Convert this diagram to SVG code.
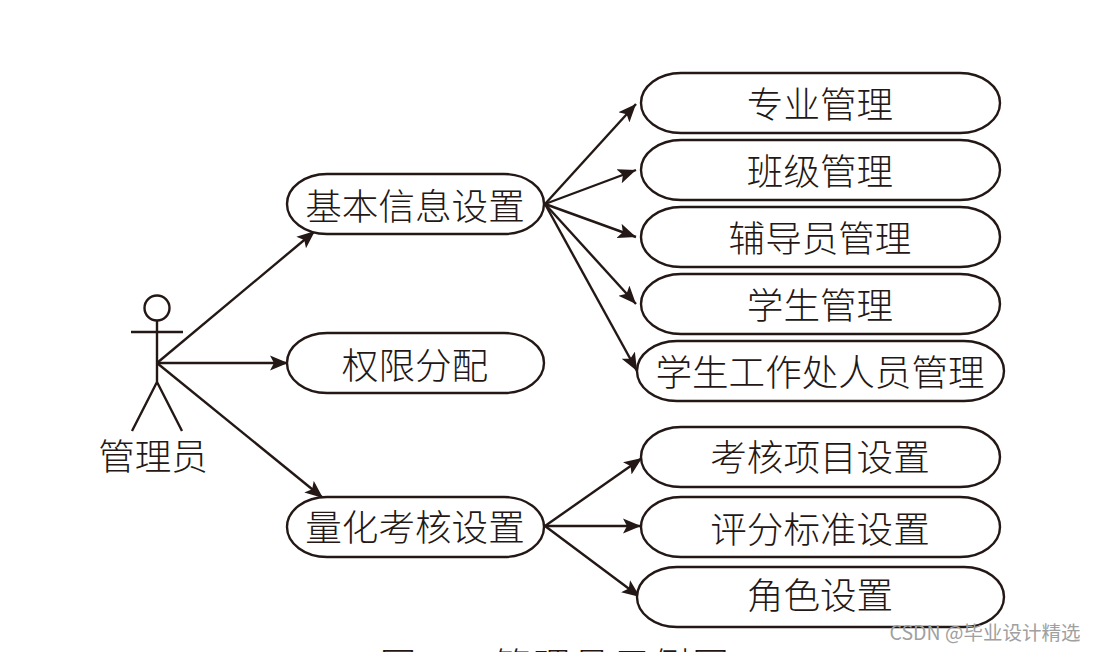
<svg xmlns="http://www.w3.org/2000/svg" width="1096" height="652" viewBox="0 0 1096 652">
<style>
.n{fill:#fff;stroke:#231815;stroke-width:2.4}
.t{font-family:"Noto Sans CJK SC","Liberation Serif",serif;font-size:36.6px;fill:#231815;text-anchor:middle;font-weight:300}
.l{stroke:#231815;stroke-width:2.4;fill:none}
.c{stroke:#231815;stroke-width:2.4;fill:none;marker-end:url(#a)}
</style>
<defs><marker id="a" markerUnits="userSpaceOnUse" markerWidth="20" markerHeight="16" refX="18" refY="8" orient="auto"><path d="M0 0.5L18 8L0 15.5L4 8Z" fill="#231815"/></marker></defs>
<g id="connectors">
<path class="c" d="M157 363L315 231"/>
<path class="c" d="M157 363H288"/>
<path class="c" d="M157 363L323 498"/>
<path class="c" d="M545 204L636 104"/>
<path class="c" d="M545 204L636 170"/>
<path class="c" d="M545 204L636 237"/>
<path class="c" d="M545 204L636 304"/>
<path class="c" d="M545 204L637 371"/>
<path class="c" d="M545 526L642 458"/>
<path class="c" d="M545 526H641"/>
<path class="c" d="M545 526L640 597"/>
</g>
<g id="actor"><circle class="l" cx="157" cy="308" r="12.5"/><path class="l" d="M157 320V382M131 332H183M157 382L132 431M157 382L182 431"/><text class="t" x="153" y="470">管理员</text></g>
<g id="n1"><rect class="n" x="287" y="174" width="257" height="60" rx="40" ry="30"/><text class="t" x="415" y="220">基本信息设置</text></g>
<g id="n2"><rect class="n" x="287" y="333" width="257" height="60" rx="40" ry="30"/><text class="t" x="415" y="379">权限分配</text></g>
<g id="n3"><rect class="n" x="287" y="497" width="257" height="60" rx="40" ry="30"/><text class="t" x="415" y="541">量化考核设置</text></g>
<g id="n4"><rect class="n" x="641" y="73" width="359" height="60" rx="40" ry="30"/><text class="t" x="820" y="118">专业管理</text></g>
<g id="n5"><rect class="n" x="641" y="140" width="359" height="60" rx="40" ry="30"/><text class="t" x="820" y="185">班级管理</text></g>
<g id="n6"><rect class="n" x="641" y="207" width="359" height="60" rx="40" ry="30"/><text class="t" x="820" y="252">辅导员管理</text></g>
<g id="n7"><rect class="n" x="641" y="274" width="359" height="60" rx="40" ry="30"/><text class="t" x="820" y="319">学生管理</text></g>
<g id="n8"><rect class="n" x="637" y="341" width="367" height="60" rx="40" ry="30"/><text class="t" x="820" y="386">学生工作处人员管理</text></g>
<g id="n9"><rect class="n" x="641" y="427" width="359" height="60" rx="40" ry="30"/><text class="t" x="820" y="471">考核项目设置</text></g>
<g id="n10"><rect class="n" x="641" y="497" width="359" height="60" rx="40" ry="30"/><text class="t" x="820" y="543">评分标准设置</text></g>
<g id="n11"><rect class="n" x="637" y="567" width="367" height="60" rx="40" ry="30"/><text class="t" x="820" y="609">角色设置</text></g>
<text class="t" x="398" y="679">图</text>
<text class="t" x="613" y="679" letter-spacing="3">管理员用例图</text>
<text x="985" y="640" font-family="'Noto Sans CJK SC','Liberation Sans',sans-serif" font-size="19.5" fill="#a0a0a0" text-anchor="middle">CSDN @毕业设计精选</text>
</svg>
